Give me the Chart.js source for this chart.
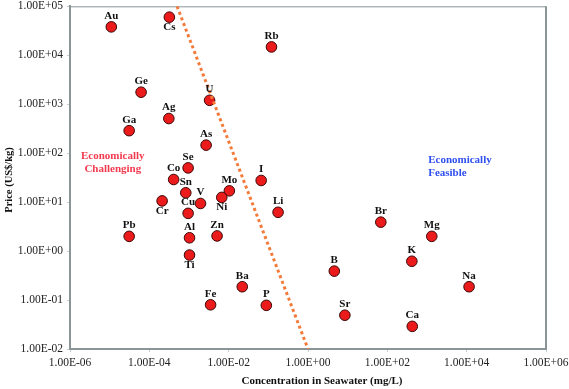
<!DOCTYPE html>
<html>
<head>
<meta charset="utf-8">
<script src="https://cdn.jsdelivr.net/npm/chart.js@4/dist/chart.umd.min.js"></script>
<style>
  html, body { margin: 0; padding: 0; background: #ffffff; }
  #wrap { width: 569px; height: 389px; position: relative; }
</style>
</head>
<body>
<div id="wrap"><canvas id="c" width="569" height="389"></canvas></div>
<script>
// ---- Data ----
const elements = ['Au','Cs','Rb','Ge','U','Ag','Ga','As','Se','Co','Sn','Mo','I','Ni','Cr','V','Cu','Li','Pb','Al','Zn','Ti','Ba','Fe','P','Br','Mg','K','B','Na','Sr','Ca'];
const concentration = [1.1e-5, 3.2e-4, 0.12, 6.2e-5, 3.3e-3, 3.1e-4, 3.1e-5, 2.7e-3, 9.5e-4, 4.1e-4, 8.3e-4, 0.0104, 0.066, 6.7e-3, 2.1e-4, 1.95e-3, 9.5e-4, 0.176, 3.1e-5, 1.03e-3, 5.1e-3, 1.03e-3, 0.022, 3.5e-3, 0.089, 68.5, 1320, 415, 4.6, 11500, 8.5, 425];
const price = [3.8e4, 6.0e4, 1.48e4, 1760, 1200, 510, 288, 146, 50, 29, 15.5, 17, 27.7, 12.5, 10.6, 9.4, 5.9, 6.2, 2.0, 1.87, 2.04, 0.83, 0.187, 0.080, 0.078, 3.9, 2.0, 0.62, 0.39, 0.187, 0.049, 0.029];
const labelsBelow = ['Cs','Ni','Cr','Ti'];
const boundaryX = [5e-4, 1];
const boundaryY = [1e5, 1e-2];
const xTicks = [1e-6, 1e-4, 1e-2, 1e0, 1e2, 1e4, 1e6];
const yTicks = [1e-2, 1e-1, 1e0, 1e1, 1e2, 1e3, 1e4, 1e5];
const regionTexts = [
  { lines: ['Economically', 'Challenging'], x: 1.2e-5, y: 63, color: '#f23a4e', align: 'center' },
  { lines: ['Economically', 'Feasible'], x: 1070, y: 52, color: '#2f4ff0', align: 'left' }
];
const xTitle = 'Concentration in Seawater (mg/L)';
const yTitle = 'Price (US$/kg)';

const SERIF = "'Liberation Serif', 'Times New Roman', serif";

function sci(v) {
  const e = Math.round(Math.log10(v));
  const sign = e < 0 ? '-' : '+';
  const a = Math.abs(e);
  return '1.00E' + sign + (a < 10 ? '0' : '') + a;
}

const overlay = {
  id: 'overlay',
  beforeDatasetsDraw(chart) {
    const { ctx, chartArea: a } = chart;
    ctx.save();
    ctx.strokeStyle = '#8a9598';
    ctx.lineWidth = 1;
    ctx.beginPath();
    ctx.moveTo(a.left, a.top + 0.5);
    ctx.lineTo(a.right, a.top + 0.5);
    ctx.stroke();
    ctx.lineWidth = 2;
    ctx.beginPath();
    ctx.moveTo(a.right, a.top);
    ctx.lineTo(a.right, a.bottom);
    ctx.stroke();
    ctx.restore();
  },
  afterDatasetsDraw(chart) {
    const { ctx } = chart;
    const xs = chart.scales.x, ys = chart.scales.y;
    ctx.save();
    ctx.font = 'bold 11px ' + SERIF;
    ctx.fillStyle = '#111111';
    ctx.textAlign = 'center';
    ctx.textBaseline = 'middle';
    const meta = chart.getDatasetMeta(1);
    meta.data.forEach((pt, i) => {
      const name = elements[i];
      const below = labelsBelow.includes(name);
      ctx.fillText(name, pt.x, pt.y + (below ? 10 : -11));
    });
    regionTexts.forEach(t => {
      const px = xs.getPixelForValue(t.x);
      const py = ys.getPixelForValue(t.y);
      ctx.fillStyle = t.color;
      ctx.textAlign = t.align;
      ctx.fillText(t.lines[0], px, py - 6.5);
      ctx.fillText(t.lines[1], px, py + 6.5);
    });
    // axis titles
    ctx.fillStyle = '#111111';
    ctx.textAlign = 'center';
    ctx.fillText(xTitle, 322, 381);
    ctx.translate(9, 180);
    ctx.rotate(-Math.PI / 2);
    ctx.font = 'bold 10.5px ' + SERIF;
    ctx.fillText(yTitle, 0, 0);
    ctx.restore();
  }
};

new Chart(document.getElementById('c'), {
  type: 'scatter',
  data: {
    datasets: [
      {
        type: 'line',
        data: boundaryX.map((x, i) => ({ x, y: boundaryY[i] })),
        borderColor: '#f47a3a',
        borderWidth: 3,
        borderDash: [3, 3],
        pointRadius: 0,
        fill: false,
        tension: 0
      },
      {
        data: concentration.map((x, i) => ({ x, y: price[i] })),
        backgroundColor: '#ec1b1b',
        borderColor: '#3a0606',
        borderWidth: 1,
        pointRadius: 5.3,
        pointHoverRadius: 5.3
      }
    ]
  },
  options: {
    responsive: false,
    animation: false,
    events: [],
    layout: { padding: { left: 0, right: 23, top: 6, bottom: 0 } },
    plugins: { legend: { display: false }, tooltip: { enabled: false } },
    scales: {
      x: {
        type: 'logarithmic',
        min: 1e-6, max: 1e6,
        afterBuildTicks(s) { s.ticks = xTicks.map(v => ({ value: v })); },
        afterFit(s) { s.height = 40; s.paddingLeft = 0; s.paddingRight = 0; },
        ticks: {
          callback: v => sci(v),
          font: { family: SERIF, size: 11.5 },
          color: '#222222',
          maxRotation: 0, autoSkip: false, padding: 4
        },
        grid: { display: true, drawOnChartArea: false, tickLength: 3, color: '#c8cccd' },
        border: { display: true, color: '#8a9598', width: 2 }
      },
      y: {
        type: 'logarithmic',
        min: 1e-2, max: 1e5,
        afterBuildTicks(s) { s.ticks = yTicks.map(v => ({ value: v })); },
        afterFit(s) { s.width = 70; s.paddingTop = 0; s.paddingBottom = 0; },
        ticks: {
          callback: v => sci(v),
          font: { family: SERIF, size: 11.5 },
          color: '#222222',
          autoSkip: false, padding: 4
        },
        grid: { display: true, drawOnChartArea: false, tickLength: 3, color: '#c8cccd' },
        border: { display: true, color: '#8a9598', width: 2 }
      }
    }
  },
  plugins: [overlay]
});
</script>
</body>
</html>
